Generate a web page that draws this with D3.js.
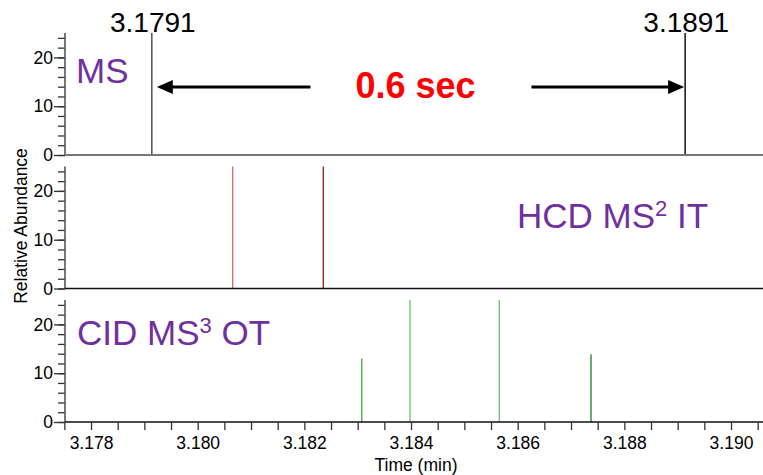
<!DOCTYPE html>
<html>
<head>
<meta charset="utf-8">
<script src="https://cdnjs.cloudflare.com/ajax/libs/d3/7.8.5/d3.min.js"></script>
<style>
  body { margin: 0; background: #fff; }
  text { font-family: Arial, "Liberation Sans", sans-serif; }
</style>
</head>
<body>
<div id="chart"></div>
<script>
// scan times (min) and relative abundances, one array per panel
var msTimes   = [3.17914, 3.18914];
var msValues  = [25, 25];
var msColors  = ['#444444', '#000000'];

var ms2Times  = [3.180657, 3.182356];
var ms2Values = [25, 25];
var ms2Colors = ['#c87676', '#8b2a2a'];

var ms3Times  = [3.183076, 3.183981, 3.185656, 3.187375];
var ms3Values = [13, 25, 25, 13.9];
var ms3Colors = ['#4caf50', '#74c474', '#74c474', '#2a8a2a'];

var xTickLabels = [3.178, 3.180, 3.182, 3.184, 3.186, 3.188, 3.190];
var yTickLabels = [0, 10, 20];

var width = 763, height = 475;
var left = 65, right = 763;
var panelTop = [33, 166.5, 300];
var panelH = 122;

var svg = d3.select('#chart')
  .append('svg')
  .attr('width', width)
  .attr('height', height);

var x = d3.scaleLinear()
  .domain([3.177512, 3.1906])
  .range([left, right]);

var panels = [
  {times: msTimes,  values: msValues,  colors: msColors},
  {times: ms2Times, values: ms2Values, colors: ms2Colors},
  {times: ms3Times, values: ms3Values, colors: ms3Colors}
];

var yMinor = d3.range(0, 25, 2);
var xMinor = d3.range(3.1775, 3.1907, 0.0005);

panels.forEach(function(p, i) {
  var y = d3.scaleLinear()
    .domain([0, 25])
    .range([panelTop[i] + panelH, panelTop[i]]);
  p.y = y;

  var g = svg.append('g');

  // minor y ticks
  g.append('g')
    .attr('transform', 'translate(' + left + ',0)')
    .call(d3.axisLeft(y).tickValues(yMinor).tickSize(7).tickFormat(''))
    .call(function(a) {
      a.select('.domain').remove();
      a.selectAll('line').attr('stroke', '#333').attr('stroke-width', 1.3);
    });

  // labelled y ticks
  g.append('g')
    .attr('transform', 'translate(' + left + ',0)')
    .call(d3.axisLeft(y).tickValues(yTickLabels).tickSize(11).tickPadding(1).tickFormat(d3.format('d')))
    .call(function(a) {
      a.select('.domain').remove();
      a.selectAll('line').attr('stroke', '#333').attr('stroke-width', 1.3);
      a.selectAll('text').style('font-size', '17.5px').attr('fill', '#000')
        .style('font-family', 'Arial, "Liberation Sans", sans-serif');
    });

  // y axis line
  g.append('line')
    .attr('x1', left).attr('x2', left)
    .attr('y1', panelTop[i]).attr('y2', panelTop[i] + panelH)
    .attr('stroke', '#555').attr('stroke-width', 1.6);

  // peaks
  g.selectAll('line.peak')
    .data(p.times)
    .enter().append('line')
    .attr('class', 'peak')
    .attr('x1', function(d) { return x(d); })
    .attr('x2', function(d) { return x(d); })
    .attr('y1', y(0))
    .attr('y2', function(d, j) { return y(p.values[j]); })
    .attr('stroke', function(d, j) { return p.colors[j]; })
    .attr('stroke-width', 1.4);

  // baseline
  g.append('line')
    .attr('x1', left).attr('x2', right)
    .attr('y1', y(0)).attr('y2', y(0))
    .attr('stroke', i == 0 ? '#777' : '#111')
    .attr('stroke-width', i == 0 ? 2 : 1.5);
});

// bottom time axis
var yb = panels[2].y(0);
svg.append('g')
  .attr('transform', 'translate(0,' + yb + ')')
  .call(d3.axisBottom(x).tickValues(xMinor).tickSize(8).tickPadding(7)
    .tickFormat(function(d) {
      return xTickLabels.some(function(t) { return Math.abs(t - d) < 1e-7; }) ? d3.format('.3f')(d) : '';
    }))
  .call(function(a) {
    a.select('.domain').remove();
    a.selectAll('line').attr('stroke', '#333').attr('stroke-width', 1.3);
    a.selectAll('text').style('font-size', '17.5px').attr('fill', '#000')
      .style('font-family', 'Arial, "Liberation Sans", sans-serif');
  });

svg.append('text')
  .attr('x', 416).attr('y', 471)
  .attr('text-anchor', 'middle')
  .style('font-size', '17.5px')
  .text('Time (min)');

svg.append('text')
  .attr('transform', 'translate(27,226) rotate(-90)')
  .attr('text-anchor', 'middle')
  .style('font-size', '17.5px')
  .text('Relative Abundance');

// MS scan time labels
svg.selectAll('text.rt')
  .data(msTimes)
  .enter().append('text')
  .attr('class', 'rt')
  .attr('x', function(d) { return x(d) + 1; })
  .attr('y', 32)
  .attr('text-anchor', 'middle')
  .style('font-size', '28px')
  .text(function(d) { return d.toFixed(4); });

// cycle time arrows
var x1 = x(msTimes[0]), x2 = x(msTimes[1]);
var mid = (x1 + x2) / 2;
var ay = 87;
svg.append('line')
  .attr('x1', x1 + 18).attr('x2', mid - 108)
  .attr('y1', ay).attr('y2', ay)
  .attr('stroke', '#000').attr('stroke-width', 3);
svg.append('path')
  .attr('d', 'M' + (x1 + 5) + ',' + ay + 'L' + (x1 + 21) + ',' + (ay - 7) + 'L' + (x1 + 21) + ',' + (ay + 7) + 'Z')
  .attr('fill', '#000');
svg.append('line')
  .attr('x1', mid + 113).attr('x2', x2 - 14)
  .attr('y1', ay).attr('y2', ay)
  .attr('stroke', '#000').attr('stroke-width', 3);
svg.append('path')
  .attr('d', 'M' + (x2 - 1) + ',' + ay + 'L' + (x2 - 17) + ',' + (ay - 7) + 'L' + (x2 - 17) + ',' + (ay + 7) + 'Z')
  .attr('fill', '#000');

svg.append('text')
  .attr('x', mid - 3).attr('y', 98)
  .attr('text-anchor', 'middle')
  .style('font-size', '36px')
  .style('font-weight', 'bold')
  .attr('fill', '#ff0000')
  .text('0.6 sec');

// scan type labels
var purple = '#7030a0';
svg.append('text')
  .attr('x', 76).attr('y', 83)
  .style('font-size', '35px').attr('fill', purple)
  .text('MS');

var t2 = svg.append('text')
  .attr('x', 517).attr('y', 228)
  .style('font-size', '35px').attr('fill', purple);
t2.append('tspan').text('HCD MS');
t2.append('tspan').attr('dy', -12).style('font-size', '22px').text('2');
t2.append('tspan').attr('dy', 12).text(' IT');

var t3 = svg.append('text')
  .attr('x', 77).attr('y', 345)
  .style('font-size', '35px').attr('fill', purple);
t3.append('tspan').text('CID MS');
t3.append('tspan').attr('dy', -12).style('font-size', '22px').text('3');
t3.append('tspan').attr('dy', 12).text(' OT');
</script>
</body>
</html>
